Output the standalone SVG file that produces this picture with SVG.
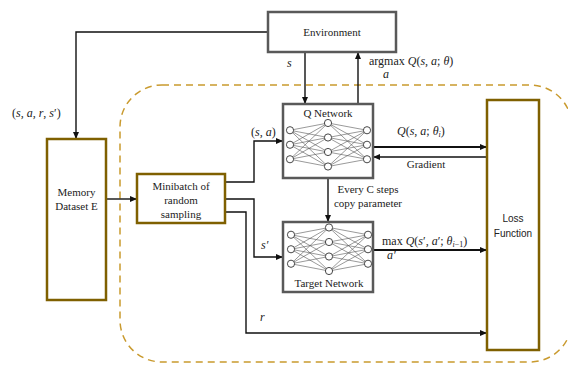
<svg xmlns="http://www.w3.org/2000/svg" xmlns:xlink="http://www.w3.org/1999/xlink" width="568" height="365" viewBox="0 0 568 365">
<style>
.gbox{fill:#fff;stroke:#595959;stroke-width:2.5}
.obox{fill:#fff;stroke:#7f6000;stroke-width:2.5}
.lbl{font-family:"Liberation Serif","Times New Roman",serif;font-size:11px;fill:#222;text-anchor:middle}
.math{font-family:"Liberation Serif","Times New Roman",serif;font-size:12px;fill:#222}
.it{font-style:italic}
.sans{font-family:"Liberation Sans",Arial,sans-serif;font-size:10px;fill:#222;text-anchor:middle}
.wire{fill:none;stroke:#111;stroke-width:1.4}
.wire2{fill:none;stroke:#111;stroke-width:2}
.nn line{stroke:#555;stroke-width:0.6}
.nn circle{fill:#fff;stroke:#333;stroke-width:0.9}
</style>
<defs>
<marker id="ah" markerUnits="userSpaceOnUse" markerWidth="7" markerHeight="6" refX="7" refY="3" orient="auto">
<path d="M0,0 L7,3 L0,6 z" fill="#111"/>
</marker>
<g id="net" class="nn">
<g>
<line x1="0" y1="7.25" x2="38" y2="0"/><line x1="0" y1="7.25" x2="38" y2="14.5"/><line x1="0" y1="7.25" x2="38" y2="29"/><line x1="0" y1="7.25" x2="38" y2="43.5"/>
<line x1="0" y1="21.75" x2="38" y2="0"/><line x1="0" y1="21.75" x2="38" y2="14.5"/><line x1="0" y1="21.75" x2="38" y2="29"/><line x1="0" y1="21.75" x2="38" y2="43.5"/>
<line x1="0" y1="36.25" x2="38" y2="0"/><line x1="0" y1="36.25" x2="38" y2="14.5"/><line x1="0" y1="36.25" x2="38" y2="29"/><line x1="0" y1="36.25" x2="38" y2="43.5"/>
<line x1="77" y1="7.25" x2="38" y2="0"/><line x1="77" y1="7.25" x2="38" y2="14.5"/><line x1="77" y1="7.25" x2="38" y2="29"/><line x1="77" y1="7.25" x2="38" y2="43.5"/>
<line x1="77" y1="21.75" x2="38" y2="0"/><line x1="77" y1="21.75" x2="38" y2="14.5"/><line x1="77" y1="21.75" x2="38" y2="29"/><line x1="77" y1="21.75" x2="38" y2="43.5"/>
<line x1="77" y1="36.25" x2="38" y2="0"/><line x1="77" y1="36.25" x2="38" y2="14.5"/><line x1="77" y1="36.25" x2="38" y2="29"/><line x1="77" y1="36.25" x2="38" y2="43.5"/>
</g>
<circle cx="0" cy="7.25" r="3.6"/><circle cx="0" cy="21.75" r="3.6"/><circle cx="0" cy="36.25" r="3.6"/>
<circle cx="38" cy="0" r="3.6"/><circle cx="38" cy="14.5" r="3.6"/><circle cx="38" cy="29" r="3.6"/><circle cx="38" cy="43.5" r="3.6"/>
<circle cx="77" cy="7.25" r="3.6"/><circle cx="77" cy="21.75" r="3.6"/><circle cx="77" cy="36.25" r="3.6"/>
</g>
</defs>
<rect width="568" height="365" fill="#fff"/>

<g id="boundary">
<rect x="120" y="85" width="452" height="277" rx="42" ry="42" fill="none" stroke="#c99a2e" stroke-width="1.5" stroke-dasharray="7 5"/>
</g>

<g id="connectors">
<polyline class="wire" points="268,32 76,32 76,139" marker-end="url(#ah)"/>
<line class="wire" x1="305" y1="52" x2="305" y2="104" marker-end="url(#ah)"/>
<line class="wire" x1="358" y1="104" x2="358" y2="52" marker-end="url(#ah)"/>
<line class="wire" x1="106" y1="199" x2="137" y2="199" marker-end="url(#ah)"/>
<polyline class="wire" points="225,182 254,182 254,141 283,141" marker-end="url(#ah)"/>
<polyline class="wire" points="225,199 254,199 254,257 283,257" marker-end="url(#ah)"/>
<polyline class="wire" points="225,212 246,212 246,333 487,333" marker-end="url(#ah)"/>
<line class="wire2" x1="373" y1="147" x2="487" y2="147" marker-end="url(#ah)"/>
<line class="wire" x1="487" y1="157" x2="373" y2="157" marker-end="url(#ah)"/>
<line class="wire" x1="328" y1="178" x2="328" y2="222" marker-end="url(#ah)"/>
<line class="wire2" x1="373" y1="250" x2="487" y2="250" marker-end="url(#ah)"/>
</g>

<g id="labels">
<text class="math" x="12" y="117">(<tspan class="it">s</tspan>, <tspan class="it">a</tspan>, <tspan class="it">r</tspan>, <tspan class="it">s</tspan>′)</text>
<text class="math it" x="287" y="67">s</text>
<text class="math" x="369" y="65">argmax <tspan class="it">Q</tspan>(<tspan class="it">s</tspan>, <tspan class="it">a</tspan>; <tspan class="it">θ</tspan>)</text>
<text class="math it" x="383" y="78" font-size="8">a</text>
<text class="math" x="251" y="136">(<tspan class="it">s</tspan>, <tspan class="it">a</tspan>)</text>
<text class="math" x="397" y="135"><tspan class="it">Q</tspan>(<tspan class="it">s</tspan>, <tspan class="it">a</tspan>; <tspan class="it">θ</tspan><tspan class="it" font-size="8" dy="2">i</tspan><tspan dy="-2">)</tspan></text>
<text class="lbl" x="426" y="168" font-size="11">Gradient</text>
<text class="lbl" x="368" y="193">Every C steps</text>
<text class="lbl" x="368" y="207">copy parameter</text>
<text class="math it" x="261" y="249">s′</text>
<text class="math" x="382" y="245">max <tspan class="it">Q</tspan>(<tspan class="it">s</tspan>′, <tspan class="it">a</tspan>′; <tspan class="it">θ</tspan><tspan font-size="8" dy="2"><tspan class="it">i</tspan>−1</tspan><tspan dy="-2">)</tspan></text>
<text class="math it" x="387" y="259" font-size="8">a′</text>
<text class="math it" x="260" y="321">r</text>
</g>

<g id="environment">
<rect class="gbox" x="268" y="12" width="128" height="40"/>
<text class="lbl" x="332" y="36">Environment</text>
</g>

<g id="memory">
<rect class="obox" x="47" y="139" width="59" height="161"/>
<text class="lbl" x="76.5" y="196">Memory</text>
<text class="lbl" x="76.5" y="210">Dataset E</text>
</g>

<g id="minibatch">
<rect class="obox" x="137" y="174" width="88" height="49"/>
<text class="lbl" x="181" y="190">Minibatch of</text>
<text class="lbl" x="181" y="204">random</text>
<text class="lbl" x="181" y="218">sampling</text>
</g>

<g id="qnetwork">
<rect class="gbox" x="283" y="104" width="90" height="74"/>
<text class="lbl" x="328" y="117">Q Network</text>
<use xlink:href="#net" href="#net" transform="translate(290,123)"/>
</g>

<g id="targetnetwork">
<rect class="gbox" x="283" y="222" width="90" height="70"/>
<use xlink:href="#net" href="#net" transform="translate(291,227.5)"/>
<text class="lbl" x="329" y="287">Target Network</text>
</g>

<g id="loss">
<rect class="obox" x="487" y="100" width="52" height="250"/>
<text class="sans" x="513" y="222">Loss</text>
<text class="sans" x="513" y="237">Function</text>
</g>
</svg>
